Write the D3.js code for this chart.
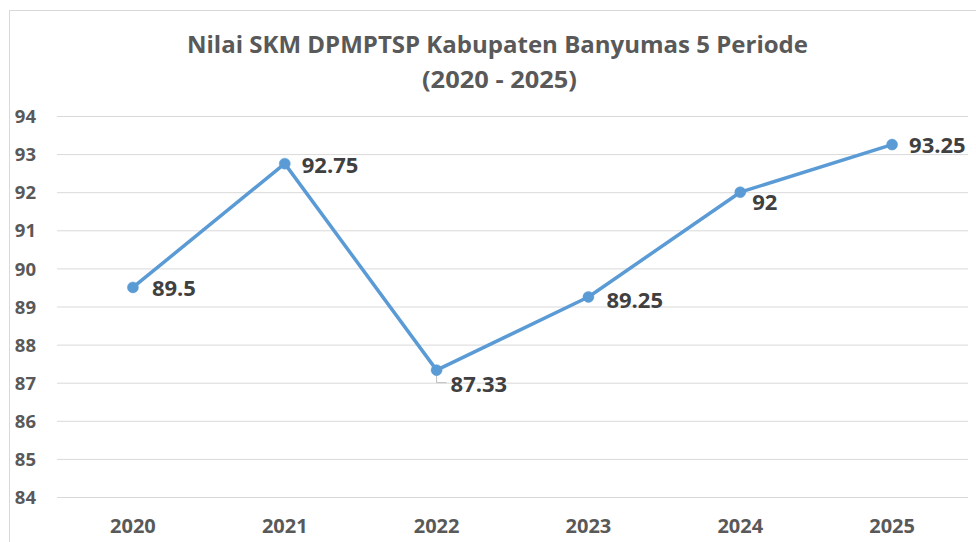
<!DOCTYPE html>
<html>
<head>
<meta charset="utf-8">
<script src="https://cdn.jsdelivr.net/npm/d3@7"></script>
<style>
  html, body { margin: 0; padding: 0; background: #fff; }
  svg { display: block; }
  text { font-family: "Open Sans", "Liberation Sans", sans-serif; font-weight: bold; }
</style>
</head>
<body>
<svg id="chart" width="976" height="542"></svg>
<script>
const categories = ["2020", "2021", "2022", "2023", "2024", "2025"];
const values = [89.5, 92.75, 87.33, 89.25, 92, 93.25];
const valueLabels = ["89.5", "92.75", "87.33", "89.25", "92", "93.25"];
const yTicks = [84, 85, 86, 87, 88, 89, 90, 91, 92, 93, 94];
const titleLines = ["Nilai SKM DPMPTSP Kabupaten Banyumas 5 Periode", "(2020 - 2025)"];
// label placement (pixels relative to point)
const labelOffsets = [[19, 1], [17, 1], [14, 14], [18, 3], [12, 10], [17, 1]];

const svg = d3.select("#chart");
const plot = { left: 57, right: 968, top: 116, bottom: 497 };

// chart area border
svg.append("rect").attr("x", 9.5).attr("y", 10.5).attr("width", 980).attr("height", 560)
  .attr("fill", "#fff").attr("stroke", "#d9d9d9").attr("stroke-width", 1);

const x = d3.scaleBand().domain(categories).range([plot.left, plot.right]).padding(0);
const y = d3.scaleLinear().domain([84, 94]).range([plot.bottom, plot.top]);
const cx = d => x(d) + x.bandwidth() / 2;

// gridlines + y labels
const yAxis = d3.axisLeft(y).tickValues(yTicks).tickSize(-(plot.right - plot.left)).tickFormat(d3.format("d")).tickPadding(21);
const gy = svg.append("g").attr("transform", `translate(${plot.left},0)`).call(yAxis);
gy.select(".domain").remove();
gy.selectAll(".tick line").attr("stroke", "#d9d9d9").attr("stroke-width", 1);
gy.selectAll(".tick text").attr("fill", "#595959").attr("font-size", 18.5)
  .attr("font-family", "'Open Sans', sans-serif").attr("font-weight", "bold").attr("dy", "0.36em");

// x axis labels
const xAxis = d3.axisBottom(x).tickSize(0).tickPadding(0);
const gx = svg.append("g").attr("transform", `translate(0,${plot.bottom})`).call(xAxis);
gx.select(".domain").remove();
gx.selectAll(".tick text").attr("fill", "#595959").attr("font-size", 20)
  .attr("font-family", "'Open Sans', sans-serif").attr("font-weight", "bold")
  .attr("y", 36).attr("dy", 0);

// title
svg.append("text").attr("x", 497.5).attr("y", 53).attr("text-anchor", "middle")
  .attr("font-size", 24).attr("fill", "#595959")
  .attr("textLength", 621).attr("lengthAdjust", "spacingAndGlyphs").text(titleLines[0]);
svg.append("text").attr("x", 499.5).attr("y", 88).attr("text-anchor", "middle")
  .attr("font-size", 24).attr("fill", "#595959")
  .attr("textLength", 155).attr("lengthAdjust", "spacingAndGlyphs").text(titleLines[1]);

const pts = categories.map((c, i) => ({ c, v: values[i], label: valueLabels[i], off: labelOffsets[i] }));

// line
const line = d3.line().x(d => cx(d.c)).y(d => y(d.v));
svg.append("path").datum(pts).attr("d", line).attr("fill", "none")
  .attr("stroke", "#5b9bd5").attr("stroke-width", 3.5).attr("stroke-linejoin", "round").attr("stroke-linecap", "round");

// leader line for 2022 label
const p2 = pts[2];
svg.append("path")
  .attr("d", `M${cx(p2.c)},${y(p2.v) + 3} V${y(p2.v) + 12.5} H${cx(p2.c) + 10}`)
  .attr("fill", "none").attr("stroke", "#bfbfbf").attr("stroke-width", 1);

// markers
svg.selectAll("circle.pt").data(pts).join("circle").attr("class", "pt")
  .attr("cx", d => cx(d.c)).attr("cy", d => y(d.v)).attr("r", 5.5)
  .attr("fill", "#5b9bd5").attr("stroke", "#5b9bd5").attr("stroke-width", 0.5);

// data labels
svg.selectAll("text.lbl").data(pts).join("text").attr("class", "lbl")
  .attr("x", d => cx(d.c) + d.off[0]).attr("y", d => y(d.v) + d.off[1])
  .attr("dy", "0.36em").attr("font-size", 22).attr("fill", "#404040")
  .text(d => d.label);
</script>
</body>
</html>
